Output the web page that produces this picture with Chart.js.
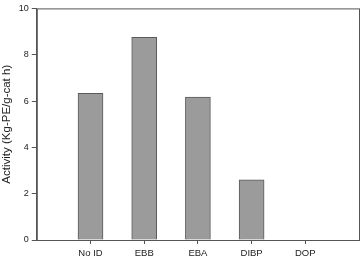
<!DOCTYPE html>
<html>
<head>
<meta charset="utf-8">
<script src="https://cdn.jsdelivr.net/npm/chart.js@4.4.0/dist/chart.umd.min.js"></script>
<style>
  html, body { margin: 0; padding: 0; background: #fff; }
  #wrap { width: 364px; height: 258px; }
</style>
</head>
<body>
<div id="wrap"><canvas id="activityChart"></canvas></div>
<script>
// datos
const categories = ['', 'No ID', 'EBB', 'EBA', 'DIBP', 'DOP', ''];
const activity = [null, 6.33, 8.75, 6.17, 2.6, 0, null];
const yTicks = [0, 2, 4, 6, 8, 10];

// marco completo alrededor del área del gráfico
const frameBox = {
    id: 'frameBox',
    afterDraw(chart) {
        const { ctx, chartArea: a } = chart;
        ctx.save();
        ctx.strokeStyle = '#555';
        ctx.lineWidth = 1;
        ctx.strokeRect(a.left + 0.5, a.top + 0.5, a.right - a.left, a.bottom - a.top);
        ctx.restore();
    }
};

Chart.defaults.font.family = '"Liberation Sans", Arial, sans-serif';
Chart.defaults.color = '#222';

new Chart(document.getElementById('activityChart'), {
    type: 'bar',
    data: {
        labels: categories,
        datasets: [{
            data: activity,
            backgroundColor: '#9b9b9b',
            borderColor: '#5a5a5a',
            borderWidth: 1,
            barThickness: 25
        }]
    },
    options: {
        responsive: true,
        maintainAspectRatio: false,
        animation: false,
        layout: { padding: { top: 3, right: 5, left: 0, bottom: 0 } },
        plugins: {
            legend: { display: false },
            tooltip: { enabled: false }
        },
        scales: {
            x: {
                offset: false,
                afterFit: (scale) => { scale.height = 18; },
                grid: {
                    offset: false,
                    drawOnChartArea: false,
                    drawTicks: true,
                    tickLength: 4,
                    // sin marcas en los extremos vacíos
                    color: (c) => (categories[c.index] ? '#555' : 'rgba(0,0,0,0)')
                },
                border: { color: '#555' },
                ticks: {
                    font: { size: 9.5 },
                    padding: 4,
                    maxRotation: 0,
                    autoSkip: false
                }
            },
            y: {
                min: 0,
                max: 10,
                afterBuildTicks: (axis) => {
                    axis.ticks = yTicks.map(v => ({ value: v }));
                },
                grid: {
                    drawOnChartArea: false,
                    drawTicks: true,
                    tickLength: 5,
                    color: '#555'
                },
                border: { color: '#555' },
                ticks: {
                    font: { size: 9 },
                    padding: 3
                },
                title: {
                    display: true,
                    text: 'Activity (Kg-PE/g-cat h)',
                    font: { size: 11.5 },
                    padding: { top: 0, bottom: 2 }
                }
            }
        }
    },
    plugins: [frameBox]
});
</script>
</body>
</html>
